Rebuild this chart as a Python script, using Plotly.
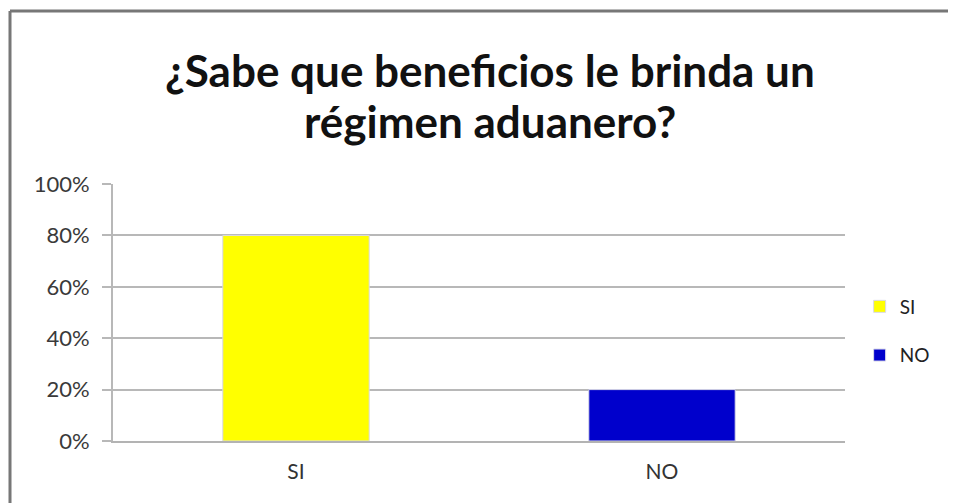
import plotly.graph_objects as go

categories = ["SI", "NO"]
values = [0.80, 0.20]
colors = ["#FFFF00", "#0000CC"]
tick_vals = [0, 0.2, 0.4, 0.6, 0.8, 1.0]
tick_text = ["0%", "20%", "40%", "60%", "80%", "100%"]
title_lines = ["¿Sabe que beneficios le brinda un", "régimen aduanero?"]

fig = go.Figure()
for c, v, col in zip(categories, values, colors):
    fig.add_trace(go.Bar(
        x=[c], y=[v], name=c, legendgroup=c,
        marker=dict(color=col, line=dict(color="#d8d8e8", width=1)),
        width=0.4, showlegend=True,
    ))

# page has 8px body margin
OFF = 8
W, H = 956 - OFF, 503 - OFF
L, R, T, B = 113 - OFF, 111, 184 - OFF, 62
PW, PH = W - L - R, H - T - B

def px_to_paper_x(px):
    return (px - OFF - L) / PW

def px_to_paper_y(py):
    return 1 - (py - OFF - T) / PH

fig.update_layout(
    width=W, height=H,
    margin=dict(l=L, r=R, t=T, b=B, autoexpand=False),
    paper_bgcolor="white", plot_bgcolor="white",
    barmode="overlay",
    xaxis=dict(showgrid=False, showline=True, linecolor="#b3b3b3", linewidth=2,
               tickfont=dict(family="Lato", size=21, color="#333333"),
               ticks="outside", ticklen=11, tickcolor="rgba(0,0,0,0)",
               categoryorder="array", categoryarray=categories),
    yaxis=dict(range=[0, 1.0], tickvals=tick_vals, ticktext=tick_text,
               showgrid=True, gridcolor="#b8b8b8", gridwidth=2,
               showline=True, linecolor="#b8b8b8", linewidth=2,
               ticks="outside", ticklen=9, tickcolor="#b8b8b8", tickwidth=2,
               ticklabelstandoff=8,
               tickfont=dict(family="Lato", size=22, color="#3a3a3a"), zeroline=False),
    legend=dict(x=1.02, y=px_to_paper_y(331), xanchor="left", yanchor="middle",
                font=dict(family="Lato", size=19, color="#222222"),
                itemwidth=30, tracegroupgap=21, bgcolor="rgba(0,0,0,0)"),
    bargap=0.6,
)

# title as two lines (annotations) for tight line spacing
for line, cy in zip(title_lines, [70, 121]):
    fig.add_annotation(text="<b>" + line + "</b>", xref="paper", yref="paper",
                       x=px_to_paper_x(490), y=px_to_paper_y(cy),
                       xanchor="center", yanchor="middle", showarrow=False,
                       font=dict(family="Lato", size=44, color="#111111"))

# chart frame lines
fx0 = px_to_paper_x(10)
fx1 = px_to_paper_x(960)
fy_top = px_to_paper_y(11)
fy_bot = px_to_paper_y(510)
fig.add_shape(type="line", xref="paper", yref="paper", x0=fx0, x1=fx0, y0=fy_bot, y1=fy_top,
              line=dict(color="#777777", width=3))
fig.add_shape(type="line", xref="paper", yref="paper", x0=fx0, x1=fx1, y0=fy_top, y1=fy_top,
              line=dict(color="#777777", width=3))

fig.write_html("out.html")
